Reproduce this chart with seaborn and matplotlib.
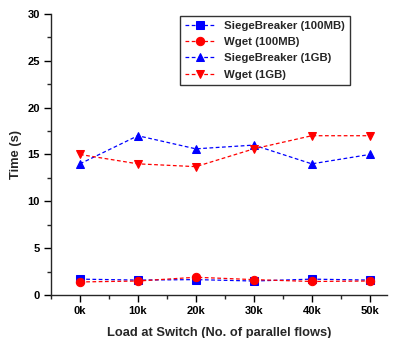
import numpy as np
import matplotlib
matplotlib.use("Agg")
import matplotlib.pyplot as plt
import pandas as pd
import seaborn as sns
from matplotlib.ticker import MultipleLocator

loads = ["0k", "10k", "20k", "30k", "40k", "50k"]
sb_100mb = [1.7, 1.6, 1.65, 1.5, 1.7, 1.6]
wget_100mb = [1.4, 1.5, 1.9, 1.65, 1.45, 1.5]
sb_1gb = [14.0, 17.0, 15.6, 16.0, 14.0, 15.0]
wget_1gb = [15.0, 14.0, 13.7, 15.6, 17.0, 17.0]

sns.set_style("ticks")
plt.rcParams['font.family'] = ['Liberation Sans', 'DejaVu Sans']
plt.rcParams['font.weight'] = 'bold'

fig = plt.figure(figsize=(3.95, 3.38), dpi=100)
ax = fig.add_axes([0.129, 0.127, 0.851, 0.832])

x = np.arange(len(loads))
series = [
    ("SiegeBreaker (100MB)", sb_100mb, "blue", "s"),
    ("Wget (100MB)", wget_100mb, "red", "o"),
    ("SiegeBreaker (1GB)", sb_1gb, "blue", "^"),
    ("Wget (1GB)", wget_1gb, "red", "v"),
]
for name, vals, col, mk in series:
    sns.lineplot(x=x, y=vals, ax=ax, color=col, marker=mk, markersize=6,
                 markeredgecolor=col, linewidth=0.9, linestyle=(0, (3, 2)),
                 label=name)

ax.set_xlim(-0.5, 5.3)
ax.set_ylim(0, 30)
ax.set_xticks(x)
ax.set_xticklabels(loads)
ax.set_xticks(x - 0.5, minor=True)
ax.yaxis.set_major_locator(MultipleLocator(5))
ax.yaxis.set_minor_locator(MultipleLocator(2.5))
ax.tick_params(axis='both', which='major', direction='out', length=5, width=1,
               labelsize=8, pad=3, colors='black')
ax.tick_params(axis='both', which='minor', direction='out', length=3, width=1)
for lbl in ax.get_xticklabels() + ax.get_yticklabels():
    lbl.set_fontweight('bold')
ax.spines['top'].set_visible(False)
ax.spines['right'].set_visible(False)
ax.spines['left'].set_linewidth(1)
ax.spines['bottom'].set_linewidth(1)

ax.set_xlabel("Load at Switch (No. of parallel flows)", fontsize=9.3,
              fontweight='bold', labelpad=8)
ax.set_ylabel("Time (s)", fontsize=9.3, fontweight='bold', labelpad=4)

leg = ax.legend(loc='upper left', bbox_to_anchor=(0.384, 0.993), fontsize=8.2,
                frameon=True, fancybox=False, edgecolor='black',
                borderaxespad=0, handlelength=2.6, borderpad=0.45,
                labelspacing=0.55)
leg.get_frame().set_linewidth(1)
for t in leg.get_texts():
    t.set_fontweight('bold')

fig.savefig("out.png", dpi=100)
